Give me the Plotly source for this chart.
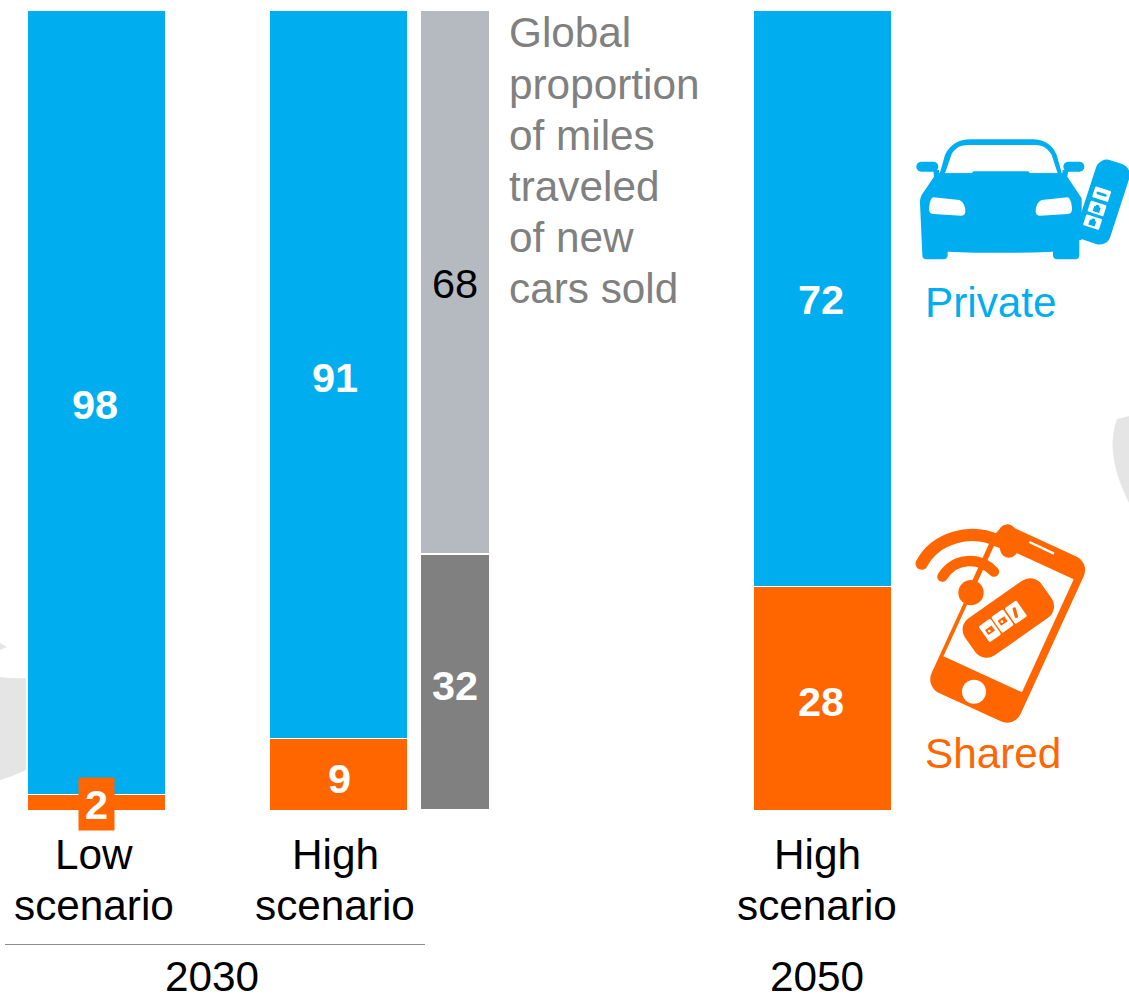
import base64
import plotly.graph_objects as go

# Shares of miles travelled, in percent
scenarios = ["Low scenario 2030", "High scenario 2030", "High scenario 2050"]
shared = [2, 9, 28]
private = [98, 91, 72]
new_car_labels = ["Shared miles", "Other miles"]
new_car_miles = [32, 68]

caption_lines = ["Global", "proportion", "of miles", "traveled", "of new", "cars sold"]

BLUE = "#00AEEF"
ORANGE = "#FF6600"
LIGHT_GREY = "#B5B9C0"
DARK_GREY = "#808080"
FONT = "Liberation Sans"
W, H = 1129, 1004
FS = 42.3
FS_VALUE = 41.5

# Horizontal layout of the columns, in page pixels
scenario_x = [96, 338.5, 822]
scenario_w = 138
grey_x = 455
grey_w = 70

# One value unit spans 8 pixels; the 100 mark sits 10 pixels below the page top
Y_TOP = 100 + 10 / 8
Y_BOTTOM = -(H - 810) / 8


def svg_uri(view_w, view_h, body):
    svg = (f'<svg xmlns="http://www.w3.org/2000/svg" viewBox="0 0 {view_w} {view_h}" '
           f'width="{view_w}" height="{view_h}" preserveAspectRatio="none">{body}</svg>')
    return "data:image/svg+xml;base64," + base64.b64encode(svg.encode()).decode()


def page_image(source, x, y, w, h, layer="above"):
    return dict(source=source, xref="paper", yref="paper", x=x / W, y=1 - y / H,
                sizex=w / W, sizey=h / H, xanchor="left", yanchor="top",
                sizing="stretch", layer=layer)


car_body = f"""
<g fill="{BLUE}">
<path fill-rule="evenodd" d="M118 165 L135 105 C150 75 175 58 212 58 L400 58 C440 60 460 80 470 105 L487 165 Z
 M135 160 L155 102 C165 85 180 75 207 75 L405 75 C430 75 445 87 455 105 L473 160 L390 160 L385 154 L220 154 L215 160 Z"/>
<rect x="49" y="125" width="66" height="30" rx="15"/>
<rect x="490" y="125" width="63" height="30" rx="15"/>
<path d="M100 150 L117 150 L118 160 L487 160 L488 150 L505 150 L502 170 L545 235 L545 360 L538 360 L538 405 Q538 418 525 418 L472 418 Q459 418 459 405 L459 395 Q300 402 143 395 L143 405 Q143 418 130 418 L80 418 Q67 418 67 405 L60 250 C60 238 61 234 65 225 L102 170 Z"/>
</g>
<g fill="#fff">
<path d="M100 232 L178 240 Q196 248 196 275 Q195 287 183 287 L100 282 Q85 280 87 263 Q90 235 100 232 Z"/>
<path d="M503 232 L425 240 Q407 248 407 275 Q408 287 420 287 L503 282 Q518 280 516 263 Q513 235 503 232 Z"/>
</g>
<g transform="rotate(18 609 246)">
<rect x="557" y="120" width="105" height="252" rx="34" fill="{BLUE}"/>
<rect x="573" y="208" width="50" height="34" rx="3" fill="#fff"/>
<rect x="582" y="221" width="32" height="8" rx="4" fill="{BLUE}"/>
<rect x="573" y="253" width="50" height="34" rx="3" fill="#fff"/>
<path d="M588 265 h20 v16 h-20 Z M592 265 a6 6 0 0 1 12 0" fill="{BLUE}"/>
<rect x="573" y="296" width="50" height="34" rx="3" fill="#fff"/>
<path d="M588 308 h20 v16 h-20 Z M592 308 a6 6 0 0 1 12 0" fill="{BLUE}"/>
</g>
"""

phone_body = f"""
<g transform="rotate(24.6 323 674)">
<rect x="176" y="402" width="294" height="544" rx="45" fill="{ORANGE}"/>
</g>
<g transform="rotate(24.6 326 654)">
<rect x="196" y="467" width="259" height="373" fill="#fff"/>
</g>
<line x1="388" y1="426" x2="462" y2="461" stroke="#fff" stroke-width="7"/>
<circle cx="222" cy="875" r="36" fill="#fff"/>
<line x1="322" y1="400" x2="327" y2="446" stroke="{ORANGE}" stroke-width="54" stroke-linecap="round"/>
<path d="M65 491 C105 415 210 380 300 425" fill="none" stroke="{ORANGE}" stroke-width="37" stroke-linecap="round"/>
<path d="M127 530 C165 470 240 470 282 515" fill="none" stroke="{ORANGE}" stroke-width="31" stroke-linecap="round"/>
<path d="M272 430 L205 578" fill="none" stroke="{ORANGE}" stroke-width="8"/>
<circle cx="213" cy="578" r="38" fill="{ORANGE}"/>
<g transform="rotate(-35 325 654)">
<rect x="185" y="586" width="280" height="136" rx="42" fill="{ORANGE}"/>
</g>
<g fill="#fff">
<rect x="248" y="662" width="43" height="58" rx="5" transform="rotate(-35 270 691)"/>
<rect x="286" y="634" width="43" height="58" rx="5" transform="rotate(-35 308 663)"/>
<rect x="326" y="608" width="43" height="58" rx="5" transform="rotate(-35 347 637)"/>
</g>
<g fill="{ORANGE}">
<rect x="258" y="682" width="24" height="18" transform="rotate(-35 270 691)"/>
<rect x="296" y="654" width="24" height="18" transform="rotate(-35 308 663)"/>
<rect x="341" y="622" width="10" height="32" rx="4" transform="rotate(-15 346 638)"/>
</g>
<g fill="#fff">
<circle cx="268" cy="693" r="4"/><circle cx="306" cy="665" r="4"/>
</g>
"""

backdrop_body = """
<g fill="#E5E5E5">
<path d="M0 677 Q14 679 26 678 L26 770 Q14 776 0 780 Z"/>
<path d="M0 643 L7 647 L0 650 Z"/>
<path d="M1129 416 L1117 419 Q1111 436 1113 453 Q1115 475 1129 503 Z"/>
</g>
"""


fig = go.Figure()

fig.add_bar(x=scenario_x, y=shared, width=scenario_w, name="Shared",
            customdata=scenarios, marker=dict(color=ORANGE, line=dict(color="white", width=1)))
fig.add_bar(x=scenario_x, y=private, width=scenario_w, name="Private",
            customdata=scenarios, marker=dict(color=BLUE, line=dict(color="white", width=1)))
fig.add_bar(x=[grey_x], y=[new_car_miles[0]], width=grey_w, name=new_car_labels[0],
            marker=dict(color=DARK_GREY, line=dict(color="white", width=1.5)))
fig.add_bar(x=[grey_x], y=[new_car_miles[1]], width=grey_w, name=new_car_labels[1],
            marker=dict(color=LIGHT_GREY, line=dict(color="white", width=1.5)))


def value_label(x, y, value, color="white", bold=True, dx=0, dy=0, **extra):
    shown = f"<b>{value}</b>" if bold else str(value)
    fig.add_annotation(x=x, y=y, xref="x", yref="y", text=shown, showarrow=False,
                       xanchor="center", yanchor="middle", xshift=dx, yshift=dy,
                       font=dict(family=FONT, size=FS_VALUE, color=color), **extra)


def page_text(text, x, y, color="black", anchor="center"):
    fig.add_annotation(x=x, y=1 - y / H, xref="x", yref="paper", text=text, showarrow=False,
                       xanchor=anchor, yanchor="middle",
                       font=dict(family=FONT, size=FS, color=color))


# Values sit at the middle of their segments
value_label(scenario_x[0], shared[0] + private[0] / 2, private[0], dx=-1, dy=-2)
value_label(scenario_x[1], shared[1] + private[1] / 2, private[1], dx=-4, dy=-3)
value_label(scenario_x[2], shared[2] + private[2] / 2, private[2], dx=-1, dy=-1)
value_label(scenario_x[0], shared[0] / 2, shared[0], dy=-2, bgcolor=ORANGE,
            width=35, height=52, borderpad=0)
value_label(scenario_x[1], shared[1] / 2, shared[1], dx=1, dy=-4)
value_label(scenario_x[2], shared[2] / 2, shared[2], dx=-1, dy=-3)
value_label(grey_x, new_car_miles[0] / 2, new_car_miles[0], dy=-3)
value_label(grey_x, new_car_miles[0] + new_car_miles[1] / 2, new_car_miles[1],
            color="black", bold=False, dy=-1)

# Column captions
for center, first in ((94, "Low"), (335, "High"), (817, "High")):
    page_text(first, center, 854)
    page_text("scenario", center, 905)
page_text("2030", 212, 976)
page_text("2050", 817, 976)

for i, line in enumerate(caption_lines):
    page_text(line, 507, 32.9 + i * 51.2, color=DARK_GREY, anchor="left")

page_text("Private", 991, 302.5, color=BLUE)
page_text("Shared", 993, 753, color=ORANGE)

fig.update_layout(
    width=W, height=H, margin=dict(l=0, r=0, t=0, b=0), autosize=False,
    barmode="stack", showlegend=False, plot_bgcolor="white", paper_bgcolor="white",
    xaxis=dict(range=[0, W], visible=False, fixedrange=True),
    yaxis=dict(range=[Y_BOTTOM, Y_TOP], visible=False, fixedrange=True),
    shapes=[dict(type="line", xref="x", yref="paper", x0=5, x1=425,
                 y0=1 - 944.5 / H, y1=1 - 944.5 / H, line=dict(color="#8C8C8C", width=1))],
    images=[
        page_image(svg_uri(W, H, backdrop_body), 0, 0, W, H, layer="below"),
        page_image(svg_uri(687, 480, car_body), 900, 120, 229, 160),
        page_image(svg_uri(687, 1020, phone_body), 900, 400, 229, 340),
    ],
)

fig.write_html("out.html", config=dict(displayModeBar=False))
